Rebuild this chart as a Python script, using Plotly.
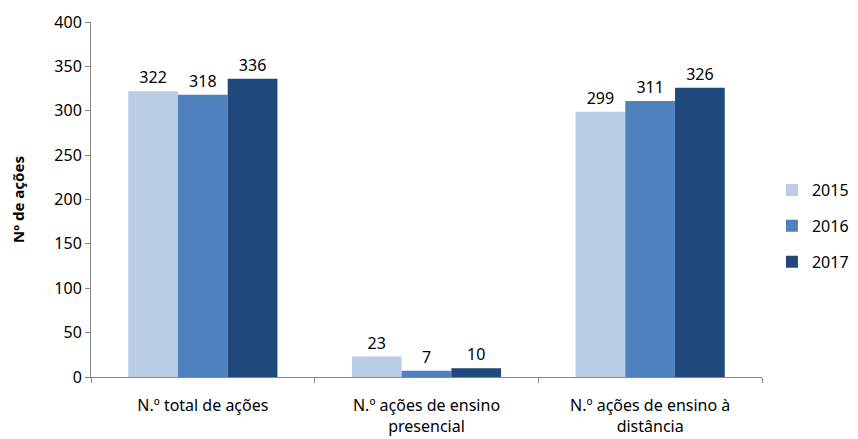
import plotly.graph_objects as go

categories = ['N.º total de ações', 'N.º ações de ensino<br>presencial', 'N.º ações de ensino à<br>distância']
years = ['2015', '2016', '2017']
values_2015 = [322, 23, 299]
values_2016 = [318, 7, 311]
values_2017 = [336, 10, 326]
colors = ['#B9CDE5', '#4F81BD', '#1F497D']

font_family = 'Noto Sans, Liberation Sans, sans-serif'

fig = go.Figure()
for year, vals, col in zip(years, [values_2015, values_2016, values_2017], colors):
    fig.add_trace(go.Bar(
        x=categories,
        y=vals,
        name=year,
        legendgroup=year,
        marker=dict(color=col, line=dict(width=0)),
        text=vals,
        textposition='outside',
        textfont=dict(size=16, color='#000000'),
        cliponaxis=False
    ))

# page body has an 8px margin, so margins are shifted to compensate
fig.update_layout(
    width=858,
    height=439,
    barmode='group',
    bargap=0.333,
    bargroupgap=0,
    plot_bgcolor='white',
    paper_bgcolor='white',
    font=dict(family=font_family, size=16, color='#000000'),
    margin=dict(l=83, r=100, t=14, b=70),
    xaxis=dict(
        automargin=False,
        showline=True,
        linecolor='#868686',
        ticks='outside',
        tickson='boundaries',
        ticklen=5,
        tickcolor='#868686',
        tickfont=dict(size=16),
        ticklabelstandoff=14,
        showgrid=False
    ),
    yaxis=dict(
        automargin=False,
        range=[0, 400],
        dtick=50,
        showline=True,
        linecolor='#868686',
        ticks='outside',
        ticklen=5,
        tickcolor='#868686',
        tickfont=dict(size=16),
        showgrid=False,
        zeroline=False,
        title=dict(text='<b>Nº de ações</b>', font=dict(size=15), standoff=30)
    ),
    legend=dict(
        x=1.0148,
        xanchor='left',
        y=0.425,
        yanchor='middle',
        traceorder='grouped',
        tracegroupgap=12,
        font=dict(size=16)
    ),
    showlegend=True
)

fig.write_html("out.html")
